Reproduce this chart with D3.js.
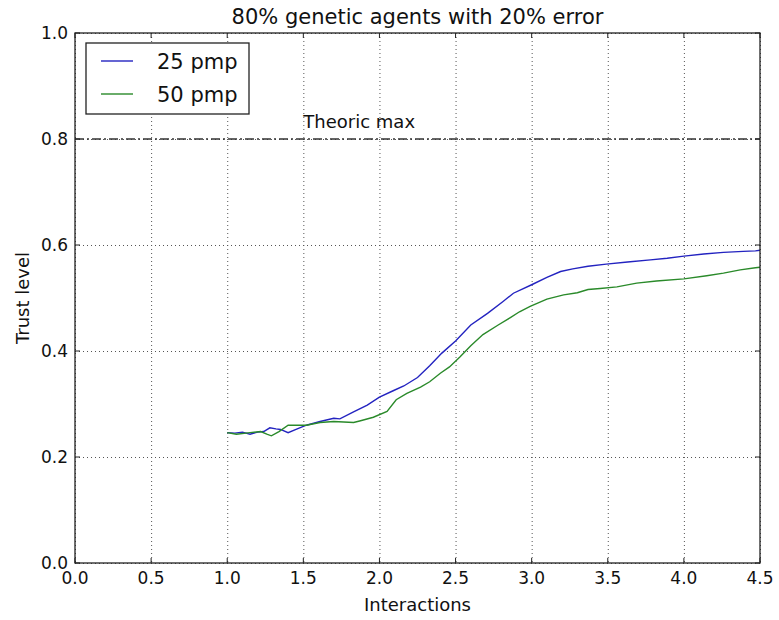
<!DOCTYPE html>
<html>
<head>
<meta charset="utf-8">
<script src="https://cdn.jsdelivr.net/npm/d3@7"></script>
<style>
  body { margin: 0; background: #fff; }
  svg { font-family: "DejaVu Sans", sans-serif; }
</style>
</head>
<body>
<svg id="chart" width="779" height="620"></svg>
<script>
const seriesNames = ['25 pmp', '50 pmp']
const seriesColors = ['#2323c0', '#2a8a2a']

const x25 = [1.00, 1.05, 1.10, 1.15, 1.20, 1.24, 1.28, 1.32, 1.35, 1.40, 1.46, 1.52, 1.61, 1.70, 1.74, 1.83, 1.92, 2.00, 2.09, 2.16, 2.25, 2.33, 2.41, 2.50, 2.60, 2.71, 2.81, 2.88, 3.00, 3.10, 3.19, 3.27, 3.37, 3.49, 3.63, 3.78, 3.89, 4.00, 4.13, 4.26, 4.39, 4.47, 4.50]
const y25 = [0.246, 0.245, 0.247, 0.243, 0.247, 0.248, 0.255, 0.253, 0.252, 0.246, 0.253, 0.260, 0.267, 0.273, 0.272, 0.285, 0.298, 0.313, 0.325, 0.334, 0.350, 0.372, 0.396, 0.419, 0.449, 0.471, 0.493, 0.509, 0.525, 0.539, 0.550, 0.555, 0.560, 0.564, 0.568, 0.572, 0.575, 0.579, 0.583, 0.586, 0.588, 0.589, 0.590]

const x50 = [1.00, 1.06, 1.15, 1.22, 1.26, 1.29, 1.34, 1.40, 1.46, 1.52, 1.61, 1.70, 1.83, 1.87, 1.96, 2.05, 2.11, 2.18, 2.27, 2.33, 2.40, 2.46, 2.53, 2.60, 2.68, 2.78, 2.86, 2.92, 2.99, 3.10, 3.21, 3.30, 3.37, 3.45, 3.56, 3.69, 3.82, 4.00, 4.15, 4.26, 4.37, 4.47, 4.50]
const y50 = [0.246, 0.243, 0.246, 0.248, 0.243, 0.240, 0.248, 0.260, 0.260, 0.260, 0.265, 0.267, 0.265, 0.268, 0.275, 0.286, 0.308, 0.320, 0.332, 0.342, 0.358, 0.370, 0.389, 0.410, 0.431, 0.449, 0.463, 0.474, 0.484, 0.498, 0.506, 0.510, 0.516, 0.518, 0.521, 0.528, 0.532, 0.536, 0.542, 0.547, 0.553, 0.557, 0.558]

const xTicks = [0, 0.5, 1, 1.5, 2, 2.5, 3, 3.5, 4, 4.5]
const yTicks = [0, 0.2, 0.4, 0.6, 0.8, 1.0]
const theoricMax = 0.8

const svg = d3.select('#chart')
const mLeft = 75, mRight = 760, mTop = 33, mBottom = 563
const width = mRight - mLeft, height = mBottom - mTop

const xScale = d3.scaleLinear().domain([0, 4.5]).range([0, width])
const yScale = d3.scaleLinear().domain([0, 1]).range([height, 0])

const chart = svg.append('g').attr('transform', `translate(${mLeft}, ${mTop})`)

// grid
chart.append('g')
  .call(d3.axisBottom(xScale).tickValues(xTicks).tickSize(height).tickFormat(''))
  .call(g => g.select('.domain').remove())
  .selectAll('line')
  .attr('stroke', '#555').attr('stroke-dasharray', '1,3')
chart.append('g')
  .call(d3.axisLeft(yScale).tickValues(yTicks).tickSize(-width).tickFormat(''))
  .call(g => g.select('.domain').remove())
  .selectAll('line')
  .attr('stroke', '#555').attr('stroke-dasharray', '1,3')

// theoric max line
chart.append('line')
  .attr('x1', 0).attr('x2', width)
  .attr('y1', yScale(theoricMax)).attr('y2', yScale(theoricMax))
  .attr('stroke', '#333').attr('stroke-width', 1.3)
  .attr('stroke-dasharray', '9,3,2,3')

chart.append('text')
  .attr('x', xScale(1.5))
  .attr('y', yScale(0.82))
  .attr('font-size', 18)
  .attr('fill', '#111')
  .text('Theoric max')

// lines
const line = d3.line()
  .x(d => xScale(d[0]))
  .y(d => yScale(d[1]))

const series = [d3.zip(x25, y25), d3.zip(x50, y50)]
series.forEach((s, i) => {
  chart.append('path')
    .datum(s)
    .attr('fill', 'none')
    .attr('stroke', seriesColors[i])
    .attr('stroke-width', 1.4)
    .attr('d', line)
})

// frame + inward ticks (classic style)
chart.append('rect')
  .attr('width', width).attr('height', height)
  .attr('fill', 'none').attr('stroke', '#222').attr('stroke-width', 1.3)

const tickLen = 5
const tickG = chart.append('g').attr('stroke', '#222')
xTicks.forEach(t => {
  tickG.append('line').attr('x1', xScale(t)).attr('x2', xScale(t)).attr('y1', height).attr('y2', height - tickLen)
  tickG.append('line').attr('x1', xScale(t)).attr('x2', xScale(t)).attr('y1', 0).attr('y2', tickLen)
})
yTicks.forEach(t => {
  tickG.append('line').attr('y1', yScale(t)).attr('y2', yScale(t)).attr('x1', 0).attr('x2', tickLen)
  tickG.append('line').attr('y1', yScale(t)).attr('y2', yScale(t)).attr('x1', width).attr('x2', width - tickLen)
})

// tick labels
chart.append('g')
  .selectAll('text')
  .data(xTicks)
  .enter()
  .append('text')
  .attr('x', d => xScale(d))
  .attr('y', height + 21)
  .attr('text-anchor', 'middle')
  .attr('font-size', 17)
  .attr('fill', '#111')
  .text(d => d3.format('.1f')(d))

chart.append('g')
  .selectAll('text')
  .data(yTicks)
  .enter()
  .append('text')
  .attr('x', -7)
  .attr('y', d => yScale(d) + 6)
  .attr('text-anchor', 'end')
  .attr('font-size', 17)
  .attr('fill', '#111')
  .text(d => d3.format('.1f')(d))

// labels
svg.append('text')
  .attr('x', mLeft + width / 2)
  .attr('y', 24)
  .attr('text-anchor', 'middle')
  .attr('font-size', 21)
  .attr('fill', '#111')
  .text('80% genetic agents with 20% error')

svg.append('text')
  .attr('x', mLeft + width / 2)
  .attr('y', 611)
  .attr('text-anchor', 'middle')
  .attr('font-size', 18)
  .attr('fill', '#111')
  .text('Interactions')

svg.append('text')
  .attr('transform', `translate(29, ${mTop + height / 2}) rotate(-90)`)
  .attr('text-anchor', 'middle')
  .attr('font-size', 18)
  .attr('fill', '#111')
  .text('Trust level')

// legend
const legend = chart.append('g').attr('transform', 'translate(11, 10)')
legend.append('rect')
  .attr('width', 163).attr('height', 71)
  .attr('fill', '#fff').attr('stroke', '#222').attr('stroke-width', 1.3)
seriesNames.forEach((name, i) => {
  const yy = 18 + i * 33
  legend.append('line')
    .attr('x1', 15).attr('x2', 47)
    .attr('y1', yy).attr('y2', yy)
    .attr('stroke', seriesColors[i]).attr('stroke-width', 1.4)
  legend.append('text')
    .attr('x', 71)
    .attr('y', yy + 8)
    .attr('font-size', 21)
    .attr('fill', '#111')
    .text(name)
})
</script>
</body>
</html>
